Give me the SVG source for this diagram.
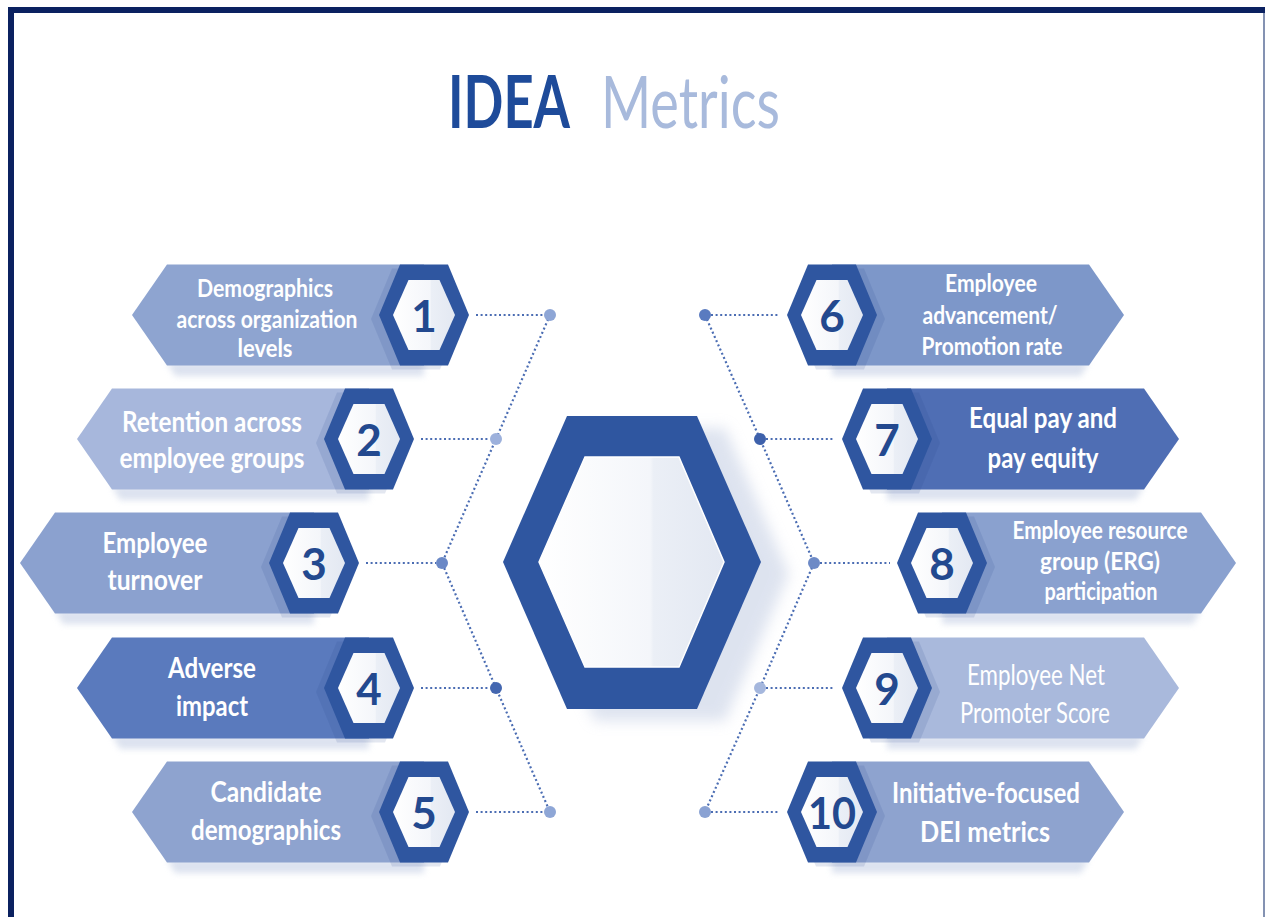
<svg xmlns="http://www.w3.org/2000/svg" width="1265" height="917" viewBox="0 0 1265 917">
  <style>
    .lbl { font-family: Lato, "Liberation Sans", sans-serif; fill: #ffffff; font-weight: 700; text-anchor: middle; }
    .lbl3 { font-size: 25px; }
    .lbl2 { font-size: 28px; }
    .light { font-weight: 400; }
    .num { font-family: Lato, "Liberation Sans", sans-serif; font-size: 44px; font-weight: 700; fill: #23498f; text-anchor: middle; }
    .ring { fill: #2f56a0; }
    .hshadow { fill: #24468a; opacity: 0.13; }
    .dotline { fill: none; stroke: #4b6db3; stroke-width: 2.2; stroke-dasharray: 2 2.6; }
    .bshadow { fill: #cdd6e8; filter: url(#soft); opacity: 0.7; }
  </style>
  <defs>
    <filter id="soft" x="-20%" y="-50%" width="140%" height="200%">
      <feGaussianBlur stdDeviation="3"/>
    </filter>
    <filter id="softBig" x="-30%" y="-30%" width="160%" height="160%">
      <feGaussianBlur stdDeviation="7"/>
    </filter>
    <linearGradient id="innerFill" x1="0" y1="0" x2="1" y2="0">
      <stop offset="0" stop-color="#ffffff"/>
      <stop offset="0.6" stop-color="#f4f6fa"/>
      <stop offset="0.62" stop-color="#ebeff6"/>
      <stop offset="1" stop-color="#e3e8f2"/>
    </linearGradient>
    <polygon id="hexOuter" points="-45,0 -24,-50.5 24,-50.5 45,0 24,50.5 -24,50.5"/>
    <polygon id="hexInner" points="-31,0 -15.5,-35 15.5,-35 31,0 15.5,35 -15.5,35"/>
  </defs>

  <rect width="1265" height="917" fill="#ffffff"/>

  <!-- frame -->
  <path d="M11,917 V10 H1265" fill="none" stroke="#0b2160" stroke-width="6"/>
  <line x1="1264" y1="13" x2="1264" y2="917" stroke="#5b6e98" stroke-width="1.5"/>

  <!-- title -->
  <g id="title">
    <text x="448" y="128" font-family="Lato, 'Liberation Sans', sans-serif" font-size="72" font-weight="700" fill="#1e4b9a" textLength="122" lengthAdjust="spacingAndGlyphs">IDEA</text>
    <text x="601" y="128" font-family="Lato, 'Liberation Sans', sans-serif" font-size="72" font-weight="400" fill="#a8badc" textLength="179" lengthAdjust="spacingAndGlyphs">Metrics</text>
  </g>

  <!-- connectors -->
  <g id="connectors">
    <polyline class="dotline" points="550,315 496,439 442,563 496,688 550,812"/>
    <polyline class="dotline" points="705,315 760,439 814,563 760,688 705,812"/>
    <line class="dotline" x1="476" y1="315" x2="544" y2="315"/>
    <line class="dotline" x1="421" y1="439" x2="490" y2="439"/>
    <line class="dotline" x1="366" y1="563" x2="436" y2="563"/>
    <line class="dotline" x1="421" y1="688" x2="490" y2="688"/>
    <line class="dotline" x1="476" y1="812" x2="544" y2="812"/>
    <line class="dotline" x1="711" y1="315" x2="780" y2="315"/>
    <line class="dotline" x1="766" y1="439" x2="835" y2="439"/>
    <line class="dotline" x1="820" y1="563" x2="890" y2="563"/>
    <line class="dotline" x1="766" y1="688" x2="835" y2="688"/>
    <line class="dotline" x1="711" y1="812" x2="780" y2="812"/>
    <circle cx="550" cy="315" r="6" fill="#8ea6d6"/>
    <circle cx="496" cy="439" r="6" fill="#9db1dc"/>
    <circle cx="442" cy="563" r="6" fill="#6a88c6"/>
    <circle cx="496" cy="688" r="6" fill="#4467b0"/>
    <circle cx="550" cy="812" r="6" fill="#8ea6d6"/>
    <circle cx="705" cy="315" r="6" fill="#5a7bc0"/>
    <circle cx="760" cy="439" r="6" fill="#3e61ab"/>
    <circle cx="814" cy="563" r="6" fill="#6d8ac6"/>
    <circle cx="760" cy="688" r="6" fill="#a5b7dd"/>
    <circle cx="705" cy="812" r="6" fill="#8aa2d3"/>
  </g>

  <!-- centre hexagon -->
  <g id="hub">
    <polygon points="531,574 595,428 725,428 789,574 725,721 595,721" fill="#c3cde3" opacity="0.55" filter="url(#softBig)"/>
    <polygon points="503,562 567,416 697,416 761,562 697,709 567,709" fill="#2f56a0"/>
    <polygon points="539,562 585,457 679,457 724,562 679,667 585,667" fill="url(#innerFill)" stroke="#ffffff" stroke-width="1.5"/>
  </g>

  <!-- left items -->
  <g id="item1">
    <polygon class="bshadow" points="167,362 424,362 424,376 175,376"/>
    <polygon points="132,315 167,264.5 424,264.5 424,365.5 167,365.5" fill="#8ea4d0"/>
    <use href="#hexOuter" x="416" y="319" class="hshadow"/>
    <use href="#hexOuter" x="424" y="315" class="ring"/>
    <use href="#hexInner" x="424" y="315" fill="url(#innerFill)"/>
    <text class="num" x="424" y="332">1</text>
    <text class="lbl lbl3" x="265" y="297" textLength="136" lengthAdjust="spacingAndGlyphs">Demographics</text>
    <text class="lbl lbl3" x="267" y="328" textLength="181" lengthAdjust="spacingAndGlyphs">across organization</text>
    <text class="lbl lbl3" x="265" y="357" textLength="55" lengthAdjust="spacingAndGlyphs">levels</text>
  </g>
  <g id="item2">
    <polygon class="bshadow" points="112,486 369,486 369,500 120,500"/>
    <polygon points="77,439 112,388.5 369,388.5 369,489.5 112,489.5" fill="#a7b7dc"/>
    <use href="#hexOuter" x="361" y="443" class="hshadow"/>
    <use href="#hexOuter" x="369" y="439" class="ring"/>
    <use href="#hexInner" x="369" y="439" fill="url(#innerFill)"/>
    <text class="num" x="369" y="456">2</text>
    <text class="lbl lbl2" x="212" y="432" textLength="180" lengthAdjust="spacingAndGlyphs">Retention across</text>
    <text class="lbl lbl2" x="212" y="468" textLength="185" lengthAdjust="spacingAndGlyphs">employee groups</text>
  </g>
  <g id="item3">
    <polygon class="bshadow" points="55,610 314,610 314,624 63,624"/>
    <polygon points="20,563 55,512.5 314,512.5 314,613.5 55,613.5" fill="#8ba1cf"/>
    <use href="#hexOuter" x="306" y="567" class="hshadow"/>
    <use href="#hexOuter" x="314" y="563" class="ring"/>
    <use href="#hexInner" x="314" y="563" fill="url(#innerFill)"/>
    <text class="num" x="314" y="580">3</text>
    <text class="lbl lbl2" x="155" y="553" textLength="105" lengthAdjust="spacingAndGlyphs">Employee</text>
    <text class="lbl lbl2" x="155" y="590" textLength="95" lengthAdjust="spacingAndGlyphs">turnover</text>
  </g>
  <g id="item4">
    <polygon class="bshadow" points="112,735 369,735 369,749 120,749"/>
    <polygon points="77,688 112,637.5 369,637.5 369,738.5 112,738.5" fill="#5a7abd"/>
    <use href="#hexOuter" x="361" y="692" class="hshadow"/>
    <use href="#hexOuter" x="369" y="688" class="ring"/>
    <use href="#hexInner" x="369" y="688" fill="url(#innerFill)"/>
    <text class="num" x="369" y="705">4</text>
    <text class="lbl lbl2" x="212" y="678" textLength="88" lengthAdjust="spacingAndGlyphs">Adverse</text>
    <text class="lbl lbl2" x="212" y="716" textLength="72" lengthAdjust="spacingAndGlyphs">impact</text>
  </g>
  <g id="item5">
    <polygon class="bshadow" points="167,859 424,859 424,873 175,873"/>
    <polygon points="132,812 167,761.5 424,761.5 424,862.5 167,862.5" fill="#8ea3cf"/>
    <use href="#hexOuter" x="416" y="816" class="hshadow"/>
    <use href="#hexOuter" x="424" y="812" class="ring"/>
    <use href="#hexInner" x="424" y="812" fill="url(#innerFill)"/>
    <text class="num" x="424" y="829">5</text>
    <text class="lbl lbl2" x="266" y="802" textLength="111" lengthAdjust="spacingAndGlyphs">Candidate</text>
    <text class="lbl lbl2" x="266" y="840" textLength="150" lengthAdjust="spacingAndGlyphs">demographics</text>
  </g>

  <!-- right items -->
  <g id="item6">
    <polygon class="bshadow" points="832,362 1089,362 1081,376 832,376"/>
    <polygon points="832,264.5 1089,264.5 1124,315 1089,365.5 832,365.5" fill="#7d97c9"/>
    <use href="#hexOuter" x="840" y="319" class="hshadow"/>
    <use href="#hexOuter" x="832" y="315" class="ring"/>
    <use href="#hexInner" x="832" y="315" fill="url(#innerFill)"/>
    <text class="num" x="832" y="332">6</text>
    <text class="lbl lbl3" x="991" y="292" textLength="92" lengthAdjust="spacingAndGlyphs">Employee</text>
    <text class="lbl lbl3" x="990" y="324" textLength="135" lengthAdjust="spacingAndGlyphs">advancement/</text>
    <text class="lbl lbl3" x="992" y="355" textLength="141" lengthAdjust="spacingAndGlyphs">Promotion rate</text>
  </g>
  <g id="item7">
    <polygon class="bshadow" points="887,486 1144,486 1136,500 887,500"/>
    <polygon points="887,388.5 1144,388.5 1179,439 1144,489.5 887,489.5" fill="#4f6eb4"/>
    <use href="#hexOuter" x="895" y="443" class="hshadow"/>
    <use href="#hexOuter" x="887" y="439" class="ring"/>
    <use href="#hexInner" x="887" y="439" fill="url(#innerFill)"/>
    <text class="num" x="887" y="456">7</text>
    <text class="lbl lbl2" x="1043" y="428" textLength="148" lengthAdjust="spacingAndGlyphs">Equal pay and</text>
    <text class="lbl lbl2" x="1043" y="468" textLength="111" lengthAdjust="spacingAndGlyphs">pay equity</text>
  </g>
  <g id="item8">
    <polygon class="bshadow" points="942,610 1201,610 1193,624 942,624"/>
    <polygon points="942,512.5 1201,512.5 1236,563 1201,613.5 942,613.5" fill="#8aa1cf"/>
    <use href="#hexOuter" x="950" y="567" class="hshadow"/>
    <use href="#hexOuter" x="942" y="563" class="ring"/>
    <use href="#hexInner" x="942" y="563" fill="url(#innerFill)"/>
    <text class="num" x="942" y="580">8</text>
    <text class="lbl lbl3" x="1100" y="539" textLength="175" lengthAdjust="spacingAndGlyphs">Employee resource</text>
    <text class="lbl lbl3" x="1100" y="570" textLength="120" lengthAdjust="spacingAndGlyphs">group (ERG)</text>
    <text class="lbl lbl3" x="1101" y="600" textLength="113" lengthAdjust="spacingAndGlyphs">participation</text>
  </g>
  <g id="item9">
    <polygon class="bshadow" points="887,735 1144,735 1136,749 887,749"/>
    <polygon points="887,637.5 1144,637.5 1179,688 1144,738.5 887,738.5" fill="#a9b9dc"/>
    <use href="#hexOuter" x="895" y="692" class="hshadow"/>
    <use href="#hexOuter" x="887" y="688" class="ring"/>
    <use href="#hexInner" x="887" y="688" fill="url(#innerFill)"/>
    <text class="num" x="887" y="705">9</text>
    <text class="lbl lbl2 light" x="1036" y="685" textLength="138" lengthAdjust="spacingAndGlyphs">Employee Net</text>
    <text class="lbl lbl2 light" x="1035" y="723" textLength="150" lengthAdjust="spacingAndGlyphs">Promoter Score</text>
  </g>
  <g id="item10">
    <polygon class="bshadow" points="832,859 1089,859 1081,873 832,873"/>
    <polygon points="832,761.5 1089,761.5 1124,812 1089,862.5 832,862.5" fill="#8ea3cf"/>
    <use href="#hexOuter" x="840" y="816" class="hshadow"/>
    <use href="#hexOuter" x="832" y="812" class="ring"/>
    <use href="#hexInner" x="832" y="812" fill="url(#innerFill)"/>
    <text class="num" x="832" y="829" textLength="48" lengthAdjust="spacingAndGlyphs">10</text>
    <text class="lbl lbl2" x="986" y="803" textLength="188" lengthAdjust="spacingAndGlyphs">Initiative-focused</text>
    <text class="lbl lbl2" x="985" y="842" textLength="130" lengthAdjust="spacingAndGlyphs">DEI metrics</text>
  </g>
</svg>
